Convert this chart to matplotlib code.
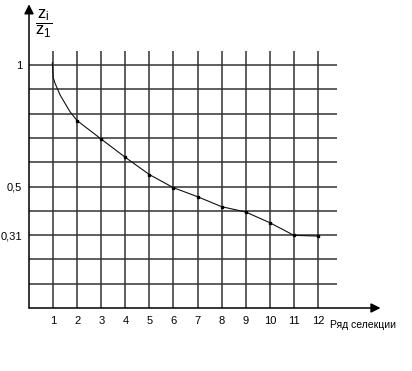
import matplotlib
matplotlib.use('Agg')
import matplotlib.pyplot as plt

plt.rcParams['font.family'] = ['Liberation Sans', 'DejaVu Sans']
plt.rcParams['mathtext.fontset'] = 'custom'
plt.rcParams['mathtext.rm'] = 'Liberation Sans'
plt.rcParams['mathtext.it'] = 'Liberation Sans'

# selection rows and relative values z_i / z_1
rows = [2, 3, 4, 5, 6, 7, 8, 9, 10, 11, 12]
ratio = [0.771, 0.695, 0.620, 0.549, 0.495, 0.458, 0.417, 0.395, 0.351, 0.299, 0.296]

# steep start of the curve near row 1
head_x = [0.97, 1.0, 1.08, 1.29, 1.70]
head_y = [1.01, 0.95, 0.925, 0.877, 0.808]

xtick_pos = list(range(1, 13))
xtick_labels = [str(i) for i in xtick_pos]
ytick_pos = [0.3, 0.5, 1.0]
ytick_labels = ['0,31', '0,5', '1']
grid_y = [0.1 * i for i in range(1, 11)]

fig = plt.figure(figsize=(4.12, 3.71), dpi=100)
ax = fig.add_axes([29 / 412, 63 / 371, 361.2 / 412, 303.75 / 371])
ax.set_xlim(0, 15)
ax.set_ylim(0, 1.25)

# grid
ax.hlines(grid_y, 0, 12.78, color='#333333', lw=1.1, zorder=1)
ax.vlines(xtick_pos, 0, 1.058, color='#333333', lw=1.1, zorder=1)

# curve
ax.plot(head_x + rows, head_y + ratio, color='#111111', lw=0.8, zorder=3)
ax.plot(rows, ratio, 's', color='black', markersize=2.0, zorder=4)

# axes with arrows
for sp in ax.spines.values():
    sp.set_visible(False)
ax.annotate('', xy=(14.6, 0), xytext=(0, 0),
            arrowprops=dict(arrowstyle='-|>', color='black', lw=1.1,
                            mutation_scale=14, shrinkA=0, shrinkB=0))
ax.annotate('', xy=(0, 1.25), xytext=(0, 0),
            arrowprops=dict(arrowstyle='-|>', color='black', lw=1.1,
                            mutation_scale=14, shrinkA=0, shrinkB=0))

ax.set_xticks(xtick_pos, xtick_labels, fontsize=8)
ax.set_yticks(ytick_pos, ytick_labels, fontsize=8)
ax.tick_params(length=0, pad=6)
ax.tick_params(axis='y', pad=5)

ax.text(0.25, 1.17, r'$\dfrac{\mathrm{z}_\mathrm{i}}{\mathrm{z}_\mathrm{1}}$',
        fontsize=12, va='center', ha='left')
ax.text(15.25, -0.07, 'Ряд селекции', fontsize=7.5, ha='right', va='center',
        clip_on=False)

fig.savefig('out.png', dpi=100)
